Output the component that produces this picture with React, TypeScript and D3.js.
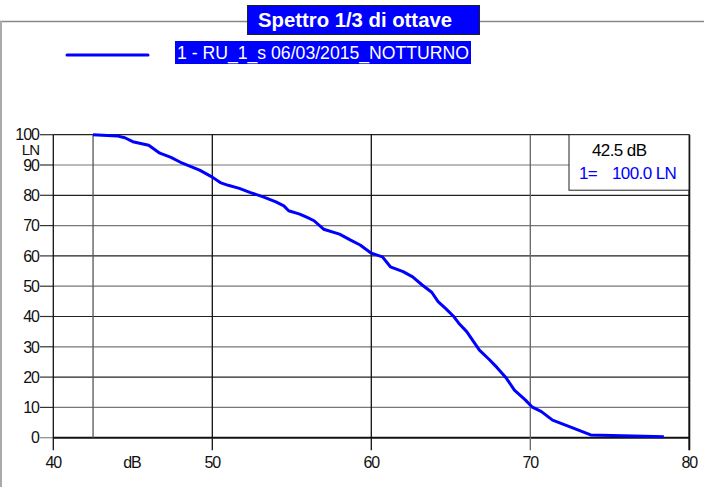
import React from 'react';
import * as d3 from 'd3';

// LN curve: level (dB) vs percentage of time exceeded
const levels = [42.5, 44.0, 44.5, 45.0, 46.0, 46.7, 47.4, 48.0, 49.2, 50.0, 50.5, 51.0, 51.7, 52.4, 53.2, 54.0, 54.5, 54.8, 55.5, 56.0, 56.4, 57.0, 58.0, 58.7, 59.3, 60.0, 60.7, 61.2, 62.0, 62.6, 63.2, 63.8, 64.2, 64.7, 65.2, 65.5, 66.0, 66.8, 67.4, 67.9, 68.5, 69.0, 69.7, 70.1, 70.7, 71.4, 72.5, 73.8, 76.5, 78.4];
const lnValues = [100, 99.6, 99.0, 97.7, 96.5, 93.9, 92.5, 90.9, 88.3, 86.0, 84.2, 83.3, 82.3, 80.9, 79.5, 77.8, 76.5, 74.9, 73.8, 72.6, 71.6, 68.8, 67.2, 65.2, 63.6, 60.9, 59.7, 56.4, 54.8, 53.1, 50.4, 48.0, 44.9, 42.5, 39.9, 37.8, 35.0, 28.9, 25.9, 23.2, 19.6, 15.7, 12.4, 10.2, 8.6, 5.8, 3.6, 0.9, 0.6, 0.3];

const yTicks = [0, 10, 20, 30, 40, 50, 60, 70, 80, 90, 100];
const xTicks = [40, 50, 60, 70, 80];
const cursorDb = 42.5;
const cursorLn = 100.0;
const title = 'Spettro 1/3 di ottave';
const seriesName = '1 - RU_1_s 06/03/2015_NOTTURNO';

export default function App() {
  const width = 704;
  const height = 487;
  const x = d3.scaleLinear().domain([40, 80]).range([53.3, 689.3]);
  const y = d3.scaleLinear().domain([0, 100]).range([437.7, 134.7]);

  const pts = levels.map((l, i) => [l, lnValues[i]] as [number, number]);
  const line = d3.line<[number, number]>()
    .x(d => x(d[0]))
    .y(d => y(d[1]));

  const font = '"Liberation Sans", Arial, sans-serif';
  const top = y(100);
  const bottom = y(0);

  return (
    <svg width={width} height={height} style={{ position: 'absolute', left: 0, top: 0, background: '#fff' }} fontFamily={font}>
      <rect x={0} y={0} width={width} height={height} fill="#fff" />
      {/* outer frame */}
      <line x1={0} x2={width} y1={21.5} y2={21.5} stroke="#888" strokeWidth={1.5} />
      <line x1={1} x2={1} y1={21} y2={height} stroke="#aaa" strokeWidth={2} />

      {/* title */}
      <rect x={247.5} y={5.5} width={232} height={29} fill="#0000ff" stroke="#222" strokeWidth={1} />
      <text x={355} y={27} textAnchor="middle" fill="#fff" fontWeight="bold" fontSize={20}
        textLength={194} lengthAdjust="spacingAndGlyphs">{title}</text>

      {/* legend */}
      <line x1={67} x2={148} y1={55} y2={55} stroke="#0000ff" strokeWidth={3} strokeLinecap="round" />
      <rect x={175} y={41} width={296} height={23} fill="#0000ff" />
      <text x={177} y={59} fill="#fff" fontSize={18} textLength={292} lengthAdjust="spacingAndGlyphs">{seriesName}</text>

      {/* horizontal grid + y ticks */}
      {yTicks.map(t => (
        <g key={'y' + t}>
          <line x1={x(40)} x2={x(80)} y1={y(t)} y2={y(t)}
            stroke={t === 0 ? '#111' : (t % 20 === 0 ? '#222' : '#777')} strokeWidth={t === 0 ? 2 : 1.2} />
          <line x1={40} x2={x(40)} y1={y(t)} y2={y(t)} stroke={t === 0 ? '#888' : '#333'} strokeWidth={1.2} />
          <text x={39} y={y(t)} dy="0.36em" textAnchor="end" fontSize={16} letterSpacing={-1} fill="#111">{t}</text>
        </g>
      ))}
      <text x={39} y={y(100) + 15} dy="0.36em" textAnchor="end" fontSize={15} letterSpacing={-1} fill="#111">LN</text>

      {/* vertical grid + x ticks */}
      {xTicks.map(t => (
        <g key={'x' + t}>
          <line x1={x(t)} x2={x(t)} y1={top} y2={bottom + 12.5}
            stroke={t === 70 ? '#666' : '#111'} strokeWidth={t === 80 ? 2 : 1.3} />
          <text x={x(t)} y={462} dy="0.36em" textAnchor="middle" fontSize={16} letterSpacing={-1} fill="#111">{t}</text>
        </g>
      ))}
      <text x={132} y={462} dy="0.36em" textAnchor="middle" fontSize={16} letterSpacing={-1} fill="#111">dB</text>

      {/* cursor */}
      <line x1={x(cursorDb)} x2={x(cursorDb)} y1={top} y2={bottom} stroke="#555" strokeWidth={1.3} />

      {/* curve */}
      <path d={line(pts) || ''} fill="none" stroke="#0000ff" strokeWidth={3} strokeLinejoin="round" />

      {/* cursor readout */}
      <rect x={569} y={top} width={120} height={55.5} fill="#fff" stroke="#222" strokeWidth={1} />
      <text x={592} y={156} fontSize={17} letterSpacing={-0.6} fill="#000">{cursorDb.toFixed(1)} dB</text>
      <text x={579} y={179} fontSize={17} letterSpacing={-0.6} fill="#0000ff">1=</text>
      <text x={612} y={179} fontSize={17} letterSpacing={-0.6} fill="#0000ff">{cursorLn.toFixed(1)} LN</text>
    </svg>
  );
}
